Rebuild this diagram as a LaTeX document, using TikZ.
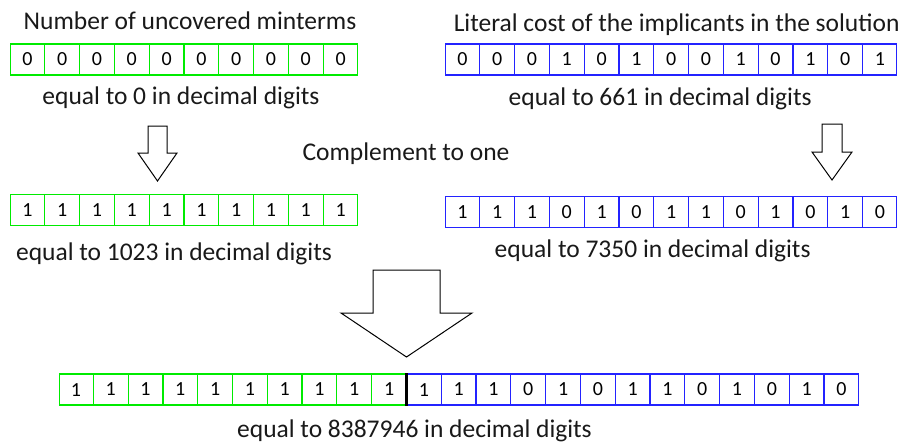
\documentclass[tikz,border=0pt]{standalone}
\usepackage{fontspec}
\setmainfont{Carlito}
\usetikzlibrary{shapes,positioning}
\definecolor{bitgreen}{RGB}{0,235,0}
\definecolor{bitblue}{RGB}{35,35,255}

\begin{document}
\begin{tikzpicture}[x=1pt,y=-1pt,
bits/.style={rectangle split,rectangle split horizontal,line width=1.2pt,
    inner xsep=11.73pt,inner ysep=0pt,
    text height=22pt,text depth=9pt,font=\fontsize{20}{20}\selectfont},
gbits/.style={bits,draw=bitgreen,rectangle split parts=10},
bbits/.style={bits,draw=bitblue,rectangle split parts=13},
caption/.style={font=\fontsize{25.5}{27}\selectfont,inner sep=0pt,
    text height=18pt,text depth=6pt,text=black!90},
blockarrow/.style={draw=black,line width=1pt,line join=miter}]
\useasboundingbox (0,0) rectangle (905,444);

% the two inputs
\node[gbits] (GTop) at (184,59.5) {0\nodepart{two}0\nodepart{three}0\nodepart{four}0\nodepart{five}0\nodepart{six}0\nodepart{seven}0\nodepart{eight}0\nodepart{nine}0\nodepart{ten}0};
\node[bbits] (BTop) [right=87pt of GTop] {0\nodepart{two}0\nodepart{three}0\nodepart{four}1\nodepart{five}0\nodepart{six}1\nodepart{seven}0\nodepart{eight}0\nodepart{nine}1\nodepart{ten}0\nodepart{eleven}1\nodepart{twelve}0\nodepart{thirteen}1};
\node[caption] (TGTop) [above=7.3pt of GTop,xshift=6pt] {Number of uncovered minterms};
\node[caption] (TBTop) [above=5.5pt of BTop,xshift=5.5pt] {Literal cost of the implicants in the solution};
\node[caption] (CGTop) [below=11pt of GTop,xshift=-3pt] {equal to 0 in decimal digits};
\node[caption] (CBTop) [below=11.5pt of BTop,xshift=-11pt] {equal to 661 in decimal digits};

% complements
\node[gbits] (GMid) [below=118pt of GTop] {1\nodepart{two}1\nodepart{three}1\nodepart{four}1\nodepart{five}1\nodepart{six}1\nodepart{seven}1\nodepart{eight}1\nodepart{nine}1\nodepart{ten}1};
\node[bbits] (BMid) [below=120pt of BTop] {1\nodepart{two}1\nodepart{three}1\nodepart{four}0\nodepart{five}1\nodepart{six}0\nodepart{seven}1\nodepart{eight}1\nodepart{nine}0\nodepart{ten}1\nodepart{eleven}0\nodepart{twelve}1\nodepart{thirteen}0};
\node[caption] (CGMid) [below=16pt of GMid,xshift=-10pt] {equal to 1023 in decimal digits};
\node[caption] (CBMid) [below=11pt of BMid,xshift=-18.5pt] {equal to 7350 in decimal digits};
\node[caption] (Compl) at (406,154.7) {Complement to one};

% concatenation
\node[gbits] (GBot) at (232.5,389.5) {1\nodepart{two}1\nodepart{three}1\nodepart{four}1\nodepart{five}1\nodepart{six}1\nodepart{seven}1\nodepart{eight}1\nodepart{nine}1\nodepart{ten}1};
\node[bbits] (BBot) [right=0pt of GBot] {1\nodepart{two}1\nodepart{three}1\nodepart{four}0\nodepart{five}1\nodepart{six}0\nodepart{seven}1\nodepart{eight}1\nodepart{nine}0\nodepart{ten}1\nodepart{eleven}0\nodepart{twelve}1\nodepart{thirteen}0};
\draw[line width=2.5pt] (GBot.north east) -- (GBot.south east);
\node[caption] (CBot) [below=14pt of GBot.south east,xshift=8pt] {equal to 8387946 in decimal digits};

% block arrows
\draw[blockarrow] (148,126) -- (148,153) -- (138,153) -- (157.5,181) -- (177,153) -- (167,153) -- (167,126) -- cycle;
\draw[blockarrow] (822,124) -- (822,152) -- (812,152) -- (832,180) -- (852,152) -- (842,152) -- (842,124) -- cycle;
\draw[blockarrow] (373,270) -- (373,313) -- (341,313) -- (406.5,357) -- (472,313) -- (440,313) -- (440,270) -- cycle;
\end{tikzpicture}
\end{document}
